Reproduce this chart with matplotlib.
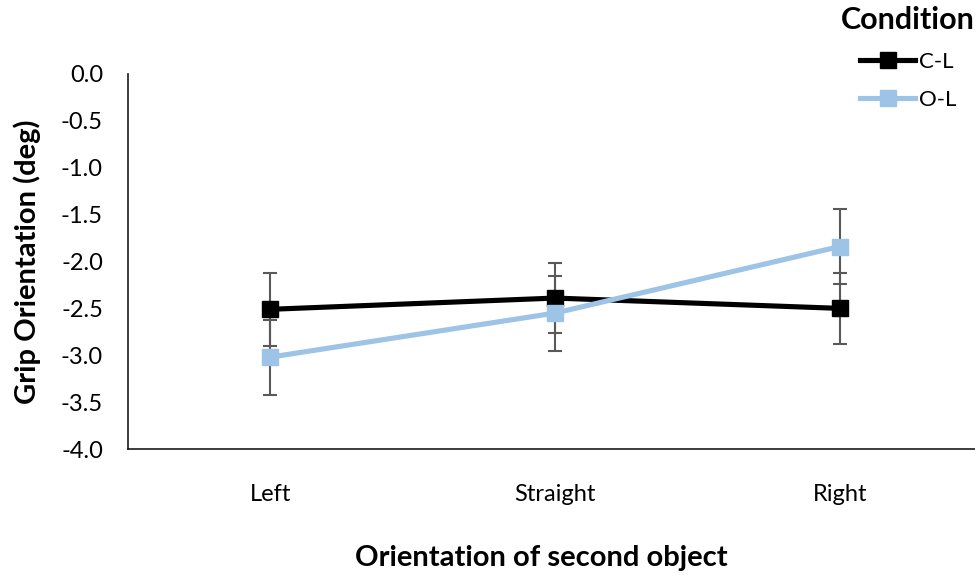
import matplotlib
matplotlib.use('Agg')
import matplotlib.pyplot as plt
import numpy as np

plt.rcParams['font.family'] = ['Lato', 'DejaVu Sans']

categories = ['Left', 'Straight', 'Right']
cl_mean = [-2.51, -2.39, -2.50]
cl_err = [0.39, 0.37, 0.38]
ol_mean = [-3.02, -2.55, -1.84]
ol_err = [0.40, 0.40, 0.40]
yticks = [0.0, -0.5, -1.0, -1.5, -2.0, -2.5, -3.0, -3.5, -4.0]

fig = plt.figure(figsize=(9.75, 5.75), dpi=100)
ax = fig.add_axes([128 / 975, 1 - 449 / 575, 1 - 128 / 975, (449 - 74) / 575])

x = np.arange(len(categories))
err_style = dict(ecolor='#595959', elinewidth=1.5, capsize=4.7, capthick=1.5)

ax.errorbar(x, cl_mean, yerr=cl_err, fmt='none', zorder=2, **err_style)
ax.errorbar(x, ol_mean, yerr=ol_err, fmt='none', zorder=2, **err_style)
ax.plot(x, cl_mean, color='black', lw=3.7, marker='s', ms=11, label='C-L', zorder=3)
ax.plot(x, ol_mean, color='#9DC3E6', lw=3.7, marker='s', ms=11, label='O-L', zorder=4)

ax.set_xlim(-0.5, 2.475)
ax.set_ylim(-4.0, 0.0)
ax.set_yticks(yticks)
ax.set_yticklabels([f'{v:.1f}' for v in yticks], fontsize=17)
ax.set_xticks(x)
ax.set_xticklabels(categories, fontsize=17)
ax.tick_params(axis='x', length=0, pad=25)
ax.tick_params(axis='y', length=0, pad=18)

for s in ['top', 'right']:
    ax.spines[s].set_visible(False)
ax.spines['left'].set_color('#1a1a1a')
ax.spines['bottom'].set_color('#1a1a1a')
ax.spines['left'].set_linewidth(1.2)
ax.spines['bottom'].set_linewidth(1.2)

fig.text(0.028, 1 - 262 / 575, 'Grip Orientation (deg)', rotation=90, fontsize=21,
         fontweight='bold', ha='center', va='center')
fig.text(541 / 975, 1 - 558 / 575, 'Orientation of second object', fontsize=21,
         fontweight='bold', ha='center', va='center')

leg = ax.legend(loc='upper right', bbox_to_anchor=(1.0, 1 + 68 / 375), frameon=False,
                title='Condition', fontsize=16, handlelength=2.5, labelspacing=0.8,
                handletextpad=0.15, borderaxespad=0, borderpad=0)
leg.get_title().set_fontweight('bold')
leg.get_title().set_fontsize(22)
leg._legend_box.align = 'center'

fig.savefig('out.png', dpi=100)
